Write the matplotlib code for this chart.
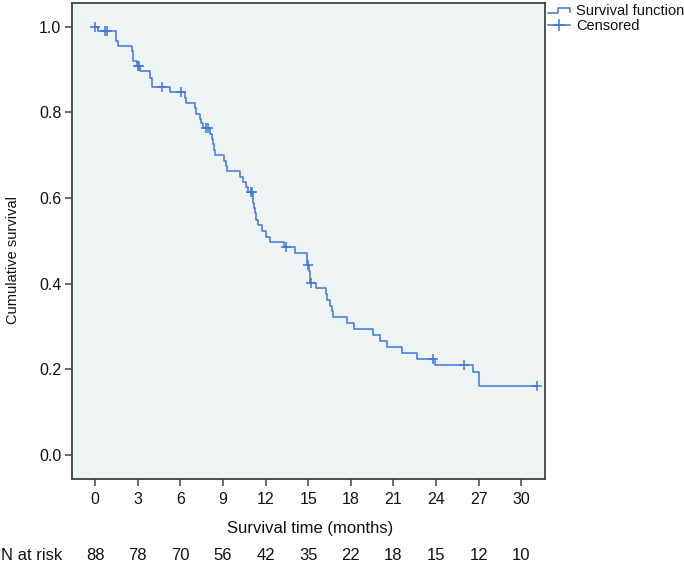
import numpy as np
import matplotlib
matplotlib.use("Agg")
import matplotlib.pyplot as plt
from matplotlib.lines import Line2D

plt.rcParams['font.family'] = ['Liberation Sans', 'DejaVu Sans']

# Kaplan-Meier step data (time of drop, survival after drop)
step_times = [0, 0.2, 1.46, 1.6, 2.58, 2.7, 2.95, 3.2, 3.85, 4.0, 5.25, 6.35, 6.43,
              7.01, 7.1, 7.37, 7.45, 7.6, 8.1, 8.2, 8.3, 8.37, 8.45, 9.1, 9.24, 9.3,
              10.2, 10.4, 10.6, 10.8, 11.1, 11.15, 11.19, 11.25, 11.33, 11.5, 11.73,
              12.04, 12.32, 13.3, 14.07, 14.9, 14.95, 15.05, 15.1, 15.15, 15.55,
              16.26, 16.35, 16.54, 16.65, 16.77, 17.71, 18.23, 19.54, 20.06, 20.57,
              21.58, 22.64, 23.93, 26.58, 27.05]
survival = [1.0, 0.989, 0.966, 0.955, 0.943, 0.920, 0.907, 0.896, 0.880, 0.858, 0.847,
            0.834, 0.822, 0.810, 0.797, 0.785, 0.774, 0.763, 0.750, 0.738, 0.725, 0.712,
            0.700, 0.687, 0.675, 0.662, 0.648, 0.637, 0.625, 0.613, 0.600, 0.588, 0.577,
            0.565, 0.549, 0.537, 0.523, 0.510, 0.498, 0.485, 0.471, 0.458, 0.444, 0.430,
            0.415, 0.401, 0.389, 0.375, 0.362, 0.348, 0.335, 0.321, 0.307, 0.294, 0.280,
            0.266, 0.251, 0.237, 0.223, 0.209, 0.194, 0.162]
end_time = 31.1
censor_times = [0.02, 0.7, 0.85, 3.05, 3.12, 4.7, 6.05, 7.83, 7.95, 10.95, 11.05,
                13.44, 15.0, 15.18, 23.76, 26.0, 31.1]

x_ticks = [0, 3, 6, 9, 12, 15, 18, 21, 24, 27, 30]
n_at_risk = [88, 78, 70, 56, 42, 35, 22, 18, 15, 12, 10]
y_ticks = [0.0, 0.2, 0.4, 0.6, 0.8, 1.0]

line_color = '#4177d6'
spine_color = '#3c4448'
text_color = '#111111'

W, H = 684, 564
fig = plt.figure(figsize=(W / 100, H / 100), dpi=100)
ax = fig.add_axes([71.7 / W, 1 - 479 / H, (545 - 71.7) / W, (479 - 3) / H])
ax.set_facecolor('#eef3f4')

t_line = np.array(step_times + [end_time])
s_line = np.array(survival + [survival[-1]])
ax.plot(t_line, s_line, drawstyle='steps-post', color=line_color, lw=1.1)

st = np.array(step_times)
sv = np.array(survival)
idx = np.searchsorted(st, np.array(censor_times), side='right') - 1
ax.plot(censor_times, sv[idx], linestyle='none', marker='+', color=line_color,
        markersize=7, mew=1.1)

ax.set_xlim(-1.64, 31.67)
ax.set_ylim(-0.056, 1.055)
ax.set_xticks(x_ticks)
ax.set_xticklabels([str(v) for v in x_ticks])
ax.set_yticks(y_ticks)
ax.set_yticklabels([f"{v:.1f}" for v in y_ticks])
for sp in ax.spines.values():
    sp.set_color(spine_color)
    sp.set_linewidth(1.3)
ax.tick_params(axis='both', direction='out', length=5, width=1.1, color=spine_color,
               labelsize=11.5, labelcolor=text_color)
ax.tick_params(axis='x', pad=4.5)
ax.tick_params(axis='y', pad=2.5)

# axis labels
fig.text(310 / W, 1 - 528 / H, 'Survival time (months)', ha='center', va='center',
         fontsize=12, color=text_color)
fig.text(13 / W, 1 - 260 / H, 'Cumulative survival', ha='center', va='center',
         rotation=90, fontsize=10.5, color=text_color)

# N at risk row
ypos = 1 - 555 / H
fig.text(0.002, ypos, 'N at risk', ha='left', va='center', fontsize=12, color=text_color)
for xv, n in zip(x_ticks, n_at_risk):
    xf = ax.transData.transform((xv, 0))[0]
    fig.text(xf / W, ypos, str(n), ha='center', va='center', fontsize=12, color=text_color)

# manual legend outside the axes
def fx(px):
    return px / W

def fy(py):
    return 1 - py / H

fig.add_artist(Line2D([fx(548.3), fx(558.3), fx(558.3), fx(570), fx(570)],
                      [fy(13.3), fy(13.3), fy(8.3), fy(8.3), fy(12.3)],
                      color=line_color, lw=1.1, transform=fig.transFigure))
fig.add_artist(Line2D([fx(548.3), fx(570)], [fy(24.5), fy(24.5)],
                      color=line_color, lw=1.1, transform=fig.transFigure))
fig.add_artist(Line2D([fx(559)], [fy(24.5)], marker='+', markersize=8, mew=1.1,
                      color=line_color, transform=fig.transFigure))
fig.text(fx(576.5), fy(11), 'Survival function', ha='left', va='center',
         fontsize=10.5, color=text_color)
fig.text(fx(576.5), fy(26), 'Censored', ha='left', va='center',
         fontsize=10.5, color=text_color)

fig.savefig('out.png', dpi=100)
